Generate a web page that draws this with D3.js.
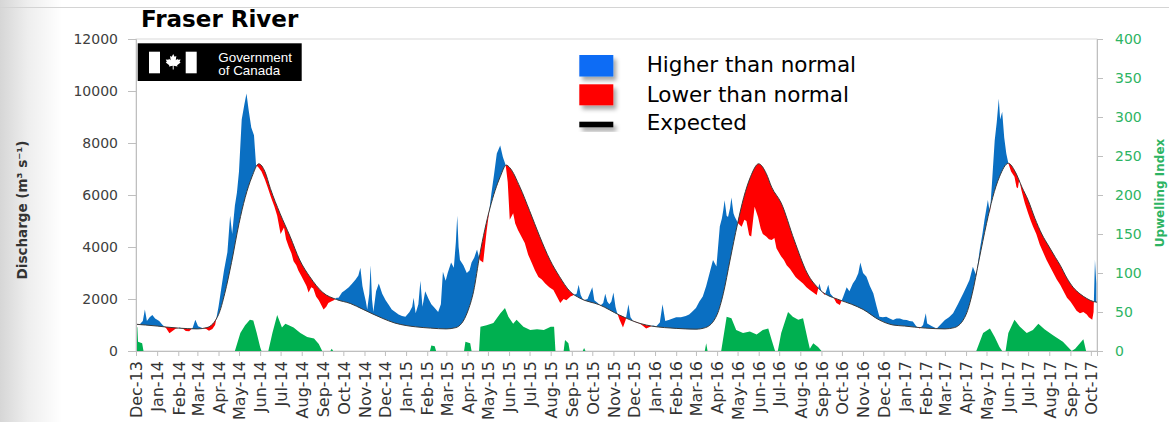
<!DOCTYPE html>
<html><head><meta charset="utf-8">
<script src="https://cdn.jsdelivr.net/npm/d3@7"></script>
<style>
html,body{margin:0;padding:0;background:#fff;}
svg{display:block;}
</style></head>
<body>
<svg id="chart" width="1169" height="422"></svg>
<script>
// ---------------- DATA ----------------
const chartTitle = "Fraser River";
const xTickLabels = ["Dec-13","Jan-14","Feb-14","Mar-14","Apr-14","May-14","Jun-14","Jul-14","Aug-14","Sep-14","Oct-14","Nov-14",
 "Dec-14","Jan-15","Feb-15","Mar-15","Apr-15","May-15","Jun-15","Jul-15","Aug-15","Sep-15","Oct-15","Nov-15",
 "Dec-15","Jan-16","Feb-16","Mar-16","Apr-16","May-16","Jun-16","Jul-16","Aug-16","Sep-16","Oct-16","Nov-16",
 "Dec-16","Jan-17","Feb-17","Mar-17","Apr-17","May-17","Jun-17","Jul-17","Aug-17","Sep-17","Oct-17"];
const leftTicks = [0,2000,4000,6000,8000,10000,12000];
const rightTicks = [0,50,100,150,200,250,300,350,400];
const xDomain = ["2013-12-01","2017-10-10"];

// Expected (normal) discharge, m3/s
const expDates = ["2013-11-15","2013-12-01","2013-12-15","2014-01-01","2014-01-15","2014-02-01","2014-02-15","2014-03-01","2014-03-15",
"2014-04-01","2014-04-10","2014-04-20","2014-05-01","2014-05-10","2014-05-20","2014-05-30","2014-06-08","2014-06-16","2014-06-30",
"2014-07-15","2014-07-29","2014-08-13","2014-09-01","2014-09-21","2014-10-11","2014-10-30","2014-11-28","2014-12-15","2015-01-01",
"2015-01-15","2015-02-06","2015-03-01","2015-03-15","2015-04-01","2015-04-10","2015-04-19","2015-05-04","2015-05-19","2015-05-28",
"2015-06-02","2015-06-17","2015-07-01","2015-07-16","2015-07-31","2015-08-14","2015-08-29","2015-09-13","2015-10-12","2015-11-10",
"2015-12-10","2015-12-29","2016-01-15","2016-02-01","2016-02-15","2016-03-01","2016-03-15","2016-04-01","2016-04-10","2016-04-20",
"2016-05-01","2016-05-10","2016-05-20","2016-06-01","2016-06-12","2016-06-20","2016-07-04","2016-07-23","2016-08-11","2016-08-30",
"2016-09-28","2016-10-15","2016-11-01","2016-11-25","2016-12-15","2017-01-01","2017-01-15","2017-02-01","2017-02-15","2017-03-01",
"2017-03-15","2017-04-01","2017-04-10","2017-04-20","2017-05-01","2017-05-10","2017-05-20","2017-06-02","2017-06-12","2017-06-22",
"2017-07-01","2017-07-11","2017-07-21","2017-08-01","2017-08-10","2017-08-17","2017-08-27","2017-09-05","2017-09-15","2017-09-25",
"2017-10-05","2017-10-20"];
const expFlow = [1100,1030,1000,960,920,880,860,850,900,
1400,2200,3400,4900,5900,6700,7200,6900,6250,5300,
4400,3500,2850,2250,1980,1830,1600,1250,1080,980,
930,880,850,900,1500,2300,3700,5500,6700,7150,
7050,6300,5400,4400,3500,2860,2300,2030,1770,1380,
1060,950,900,870,850,840,900,1400,2200,3500,
4900,5900,6700,7200,6830,6300,5690,4270,3000,2350,
1960,1800,1600,1190,1000,960,920,880,860,850,
900,1400,2200,3500,4900,5900,6700,7220,6900,6300,
5800,5100,4500,4000,3600,3300,2800,2450,2200,2020,
1900,1850];

// Observed discharge
const obsDates = ["2013-12-01","2013-12-07","2013-12-11","2013-12-14","2013-12-17","2013-12-21","2013-12-25","2013-12-29",
"2014-01-04","2014-01-09","2014-01-14","2014-01-19","2014-01-23","2014-01-28","2014-02-03","2014-02-08","2014-02-12","2014-02-17",
"2014-02-22","2014-02-26","2014-03-02","2014-03-08","2014-03-14","2014-03-18","2014-03-23","2014-03-27","2014-04-01","2014-04-05",
"2014-04-09","2014-04-14","2014-04-18","2014-04-21","2014-04-25","2014-04-28","2014-05-01","2014-05-05","2014-05-09","2014-05-12",
"2014-05-15","2014-05-19","2014-05-23","2014-05-26","2014-05-30","2014-06-03","2014-06-08","2014-06-12","2014-06-17","2014-06-22",
"2014-06-26","2014-07-01","2014-07-06","2014-07-09","2014-07-13","2014-07-17","2014-07-20","2014-07-24","2014-07-27","2014-07-31",
"2014-08-04","2014-08-08","2014-08-11","2014-08-15","2014-08-18","2014-08-22","2014-08-26","2014-08-30","2014-09-02","2014-09-06",
"2014-09-09","2014-09-13","2014-09-17","2014-09-21","2014-09-24","2014-09-29","2014-10-04","2014-10-09","2014-10-14","2014-10-19",
"2014-10-23","2014-10-26","2014-10-29","2014-10-31","2014-11-03","2014-11-05","2014-11-08","2014-11-10","2014-11-12","2014-11-14",
"2014-11-18","2014-11-22","2014-11-27","2014-12-02","2014-12-06","2014-12-11","2014-12-16","2014-12-21","2014-12-26","2014-12-31",
"2015-01-06","2015-01-10","2015-01-12","2015-01-15","2015-01-19","2015-01-22","2015-01-25","2015-01-29","2015-02-03","2015-02-07",
"2015-02-12","2015-02-17","2015-02-21","2015-02-24","2015-02-28","2015-03-03","2015-03-08","2015-03-12","2015-03-15","2015-03-17",
"2015-03-19","2015-03-21","2015-03-26","2015-03-31","2015-04-04","2015-04-07","2015-04-11","2015-04-15","2015-04-19","2015-04-24",
"2015-04-29","2015-05-03","2015-05-06","2015-05-10","2015-05-14","2015-05-19","2015-05-23","2015-05-27","2015-05-30","2015-06-02",
"2015-06-07","2015-06-10","2015-06-14","2015-06-19","2015-06-24","2015-06-29","2015-07-04","2015-07-09","2015-07-14","2015-07-19",
"2015-07-24","2015-07-30","2015-08-05","2015-08-10","2015-08-15","2015-08-20","2015-08-24","2015-08-30","2015-09-04","2015-09-08",
"2015-09-11","2015-09-14","2015-09-18","2015-09-24","2015-10-01","2015-10-04","2015-10-09","2015-10-13","2015-10-17","2015-10-20",
"2015-10-23","2015-10-26","2015-10-29","2015-11-01","2015-11-04","2015-11-06","2015-11-10","2015-11-15","2015-11-19","2015-11-23",
"2015-11-26","2015-11-30","2015-12-05","2015-12-10","2015-12-15","2015-12-19","2015-12-24","2015-12-29","2016-01-03","2016-01-08",
"2016-01-12","2016-01-16","2016-01-22","2016-01-27","2016-02-01","2016-02-08","2016-02-15","2016-02-20","2016-02-24","2016-03-01",
"2016-03-06","2016-03-11","2016-03-16","2016-03-21","2016-03-26","2016-03-31","2016-04-05","2016-04-08","2016-04-10","2016-04-12",
"2016-04-15","2016-04-17","2016-04-20","2016-04-22","2016-04-25","2016-04-27","2016-05-02","2016-05-07","2016-05-11","2016-05-14",
"2016-05-18","2016-05-21","2016-05-24","2016-05-26","2016-05-31","2016-06-04","2016-06-07","2016-06-12","2016-06-16","2016-06-20",
"2016-06-24","2016-06-27","2016-07-04","2016-07-08","2016-07-12","2016-07-17","2016-07-21","2016-07-25","2016-07-29","2016-08-05",
"2016-08-10","2016-08-15","2016-08-20","2016-08-25","2016-08-29","2016-09-01","2016-09-06","2016-09-11","2016-09-14","2016-09-18",
"2016-09-23","2016-09-28","2016-10-03","2016-10-08","2016-10-12","2016-10-17","2016-10-21","2016-10-25","2016-10-28","2016-11-01",
"2016-11-06","2016-11-11","2016-11-16","2016-11-21","2016-11-25","2016-11-30","2016-12-05","2016-12-10","2016-12-15","2016-12-20",
"2016-12-25","2016-12-30","2017-01-04","2017-01-08","2017-01-13","2017-01-18","2017-01-23","2017-01-28","2017-02-01","2017-02-03",
"2017-02-10","2017-02-17","2017-02-22","2017-03-01","2017-03-07","2017-03-13","2017-03-20","2017-03-28","2017-04-02","2017-04-06",
"2017-04-11","2017-04-16","2017-04-21","2017-04-25","2017-04-28","2017-05-03","2017-05-06","2017-05-09","2017-05-13","2017-05-16",
"2017-05-19","2017-05-21","2017-05-24","2017-05-27","2017-05-30","2017-06-02","2017-06-06","2017-06-11","2017-06-14","2017-06-16",
"2017-06-18","2017-06-21","2017-06-26","2017-07-01","2017-07-05","2017-07-08","2017-07-13","2017-07-18","2017-07-23","2017-07-28",
"2017-08-02","2017-08-07","2017-08-12","2017-08-17","2017-08-22","2017-08-27","2017-09-01","2017-09-05","2017-09-10","2017-09-15",
"2017-09-20","2017-09-25","2017-09-28","2017-10-03","2017-10-05","2017-10-07","2017-10-09"];
const obsFlow = [1000,1040,1150,1600,1150,1300,1380,1250,
1150,1000,880,680,760,860,900,860,770,760,
880,1200,950,880,850,780,850,1000,1700,2400,
3100,3800,5200,4500,5600,6100,6900,8900,9500,9900,
9300,8600,8300,7150,7050,6900,6600,6300,5900,5550,
5200,4500,4750,4300,4000,3750,3450,3300,3100,2900,
2700,2500,2250,2450,2400,2100,1950,1750,1600,1700,
1850,1900,1950,2050,2050,2250,2350,2450,2600,2750,
2900,3200,2500,2250,1900,1600,2200,3300,2000,1500,
2300,2600,2200,1950,1800,1600,1500,1400,1350,1320,
1500,1700,2050,1450,1800,2700,1700,2300,2000,1800,
1650,1500,1800,3050,2700,3000,3400,3200,4200,5200,
4000,3500,3300,3000,3100,3400,3600,3900,3500,3400,
4600,5400,6050,6800,7600,7900,7450,7150,6500,5050,
5300,4900,4650,4400,4150,3700,3400,3100,2850,2750,
2600,2450,2350,2100,1850,2000,1950,2100,2150,2200,
2550,2150,1950,2000,2450,1950,1850,1750,1850,2200,
1900,1800,1900,2250,1700,1500,1200,900,1200,1800,
1300,1150,1100,1050,950,870,920,980,950,1100,
1800,1150,1200,1250,1300,1300,1350,1400,1500,1650,
1900,2100,2500,3000,3500,3250,4800,5100,5400,5800,
5200,5150,5500,5900,5300,5150,4900,4780,5050,5000,
4450,4400,5100,5550,5150,4700,4500,4400,4300,4270,
4350,3950,3630,3500,3300,3150,3000,2850,2750,2600,
2450,2350,2250,2150,2600,2300,2150,2550,2200,2090,
1850,1770,2100,2450,2300,2600,2750,2990,3400,3000,
2860,2500,2220,1700,1320,1300,1320,1250,1190,1250,
1250,1200,1190,1150,1130,950,870,1000,1450,1060,
950,870,1000,1190,1300,1450,1800,2220,2500,2730,
3240,2900,3880,4500,5040,5810,5300,6450,8100,8800,
9700,8900,9200,8200,7600,7220,6900,6700,6300,6260,
6600,6200,5700,5300,5000,4800,4500,4100,3800,3500,
3250,3000,2750,2550,2300,2050,1900,1750,1550,1450,
1500,1400,1300,1200,1500,3500,2600];

// Upwelling index (right axis)
const upDates = ["2013-12-01","2013-12-03","2013-12-04","2013-12-10","2013-12-12","2014-04-25","2014-05-03","2014-05-10","2014-05-17",
"2014-05-22","2014-05-27","2014-06-01","2014-06-03","2014-06-13","2014-06-19","2014-06-26","2014-07-03","2014-07-08","2014-07-13",
"2014-07-20","2014-07-30","2014-08-09","2014-08-19","2014-08-26","2014-08-31","2014-09-12","2014-09-14","2014-09-16","2015-02-05",
"2015-02-07","2015-02-12","2015-02-14","2015-03-27","2015-03-29","2015-04-05","2015-04-07","2015-04-18","2015-04-20","2015-04-29",
"2015-05-09","2015-05-19","2015-05-26","2015-05-31","2015-06-07","2015-06-12","2015-06-22","2015-07-02","2015-07-12","2015-07-22",
"2015-08-01","2015-08-06","2015-08-08","2015-08-20","2015-08-22","2015-08-27","2015-08-29","2015-09-17","2015-09-19","2015-09-21",
"2016-03-14","2016-03-16","2016-03-18","2016-04-07","2016-04-15","2016-04-22","2016-04-29","2016-05-09","2016-05-19","2016-05-29",
"2016-06-07","2016-06-15","2016-06-20","2016-06-25","2016-06-29","2016-07-04","2016-07-14","2016-07-21","2016-07-29","2016-08-05",
"2016-08-12","2016-08-15","2016-08-20","2016-08-27","2016-09-01","2017-04-16","2017-04-26","2017-05-06","2017-05-13","2017-05-20",
"2017-05-24","2017-05-29","2017-06-02","2017-06-11","2017-06-19","2017-06-29","2017-07-08","2017-07-16","2017-07-25","2017-08-07",
"2017-08-21","2017-09-03","2017-09-08","2017-09-20","2017-09-24","2017-10-09"];
const upIndex = [33,30,12,10,0,0,23,33,40,
39,23,5,0,0,23,46,30,35,33,
30,23,18,16,9,0,0,3,0,0,
7,6,0,0,12,10,0,0,31,33,
36,48,55,44,35,40,31,27,28,27,
31,31,0,0,14,10,0,0,4,0,
0,10,0,0,44,42,27,23,25,21,
27,29,14,0,0,23,50,44,40,42,
14,3,10,5,0,0,23,29,18,5,
0,0,23,40,31,23,27,35,28,20,
12,0,3,15,0,0];

// ---------------- CHART ----------------
const W = 1169, H = 422;
const P = {left:136, right:1097, top:39, bottom:351};
const parse = d3.timeParse("%Y-%m-%d");
const parseTick = d3.timeParse("%b-%y");
const svg = d3.select("#chart");
const FONT = "'DejaVu Sans', sans-serif";

const x = d3.scaleTime().domain(xDomain.map(parse)).range([P.left, P.right]);
const y = d3.scaleLinear().domain([0, 12000]).range([P.bottom, P.top]);
const y2 = d3.scaleLinear().domain([0, 400]).range([P.bottom, P.top]);

const obs = obsDates.map((d,i)=>({date:parse(d), v:obsFlow[i]}));
const up = upDates.map((d,i)=>({date:parse(d), v:upIndex[i]}));
const expSeries = expDates.map((d,i)=>({date:parse(d), v:expFlow[i]}));

const defs = svg.append("defs");
const lg = defs.append("linearGradient").attr("id","leftShade").attr("x1",0).attr("x2",1).attr("y1",0).attr("y2",0);
lg.append("stop").attr("offset",0).attr("stop-color","#d6d6d6");
lg.append("stop").attr("offset",0.45).attr("stop-color","#eeeeee");
lg.append("stop").attr("offset",1).attr("stop-color","#ffffff");
svg.append("rect").attr("x",0).attr("y",0).attr("width",62).attr("height",H).attr("fill","url(#leftShade)");
svg.append("line").attr("x1",0).attr("x2",W).attr("y1",7.5).attr("y2",7.5).attr("stroke","#d4d4d4").attr("stroke-width",1);

const sh = defs.append("filter").attr("id","shadow").attr("x","-30%").attr("y","-30%").attr("width","180%").attr("height","200%");
sh.append("feDropShadow").attr("dx",3).attr("dy",4).attr("stdDeviation",2.2).attr("flood-color","#000").attr("flood-opacity",0.35);

defs.append("clipPath").attr("id","plotClip").append("rect")
  .attr("x",P.left).attr("y",P.top).attr("width",P.right-P.left).attr("height",P.bottom-P.top);
defs.append("clipPath").attr("id","aboveExp").append("path")
  .attr("d", d3.area().x(d=>x(d.date)).y0(P.top-5).y1(d=>y(d.v)).curve(d3.curveMonotoneX)(expSeries));
defs.append("clipPath").attr("id","belowExp").append("path")
  .attr("d", d3.area().x(d=>x(d.date)).y0(H).y1(d=>y(d.v)).curve(d3.curveMonotoneX)(expSeries));

svg.append("rect").attr("x",P.left).attr("y",P.top).attr("width",P.right-P.left).attr("height",P.bottom-P.top)
  .attr("fill","none").attr("stroke","#d9d9d9");

const plot = svg.append("g").attr("clip-path","url(#plotClip)");
plot.append("g").attr("clip-path","url(#aboveExp)").append("path")
  .attr("d", d3.area().x(d=>x(d.date)).y0(P.bottom).y1(d=>y(d.v))(obs))
  .attr("fill","#0a6fc2");
plot.append("g").attr("clip-path","url(#belowExp)").append("path")
  .attr("d", d3.area().x(d=>x(d.date)).y0(P.top).y1(d=>y(d.v))(obs))
  .attr("fill","#ff0000");
plot.append("path").attr("d", d3.line().x(d=>x(d.date)).y(d=>y(d.v)).curve(d3.curveMonotoneX)(expSeries))
  .attr("fill","none").attr("stroke","#3a3a3a").attr("stroke-width",1);
plot.append("path").attr("d", d3.area().x(d=>x(d.date)).y0(y2(0)).y1(d=>y2(d.v))(up))
  .attr("fill","#00b050");

const gl = svg.append("g").attr("transform",`translate(${P.left},0)`)
  .call(d3.axisLeft(y).tickValues(leftTicks).tickSize(8).tickPadding(10).tickFormat(d3.format("d")));
gl.selectAll("text").attr("font-family",FONT).attr("font-size",14).attr("fill","#404040");
const gr = svg.append("g").attr("transform",`translate(${P.right},0)`)
  .call(d3.axisRight(y2).tickValues(rightTicks).tickSize(6).tickPadding(12).tickFormat(d3.format("d")));
gr.selectAll("text").attr("font-family",FONT).attr("font-size",14).attr("fill","#2db463");
const tickDates = xTickLabels.map(s=>parseTick(s));
const gb = svg.append("g").attr("transform",`translate(0,${P.bottom})`)
  .call(d3.axisBottom(x).tickValues(tickDates).tickSize(5).tickFormat((d,i)=>xTickLabels[i]));
gb.selectAll("text").attr("font-family",FONT).attr("font-size",16).attr("fill","#333")
  .attr("transform","rotate(-90)").attr("x",-10).attr("y",0).attr("dy","0.36em").style("text-anchor","end");
[gl,gr,gb].forEach(g=>{ g.select(".domain").attr("stroke","#bfbfbf"); g.selectAll(".tick line").attr("stroke","#bfbfbf"); });

svg.append("text").attr("x",141).attr("y",27).attr("font-family",FONT).attr("font-weight","bold")
  .attr("font-size",23).attr("fill","#000").text(chartTitle);
svg.append("text").attr("transform","translate(27,210) rotate(-90)").attr("text-anchor","middle")
  .attr("font-family",FONT).attr("font-weight","bold").attr("font-size",13.5).attr("fill","#333")
  .text("Discharge (m³ s⁻¹)");
svg.append("text").attr("transform","translate(1164,193) rotate(-90)").attr("text-anchor","middle")
  .attr("font-family",FONT).attr("font-weight","bold").attr("font-size",12).attr("fill","#2db463")
  .text("Upwelling Index");

const logo = svg.append("g");
logo.append("rect").attr("x",137.7).attr("y",43.3).attr("width",164).attr("height",37.7).attr("fill","#000");
logo.append("rect").attr("x",149).attr("y",51.7).attr("width",11).attr("height",21.6).attr("fill","#fff");
logo.append("rect").attr("x",185.7).attr("y",51.7).attr("width",11).attr("height",21.6).attr("fill","#fff");
const leaf = [[0,-1],[0.18,-0.65],[0.4,-0.75],[0.33,-0.2],[0.55,-0.4],[0.6,-0.25],[0.95,-0.3],[0.82,0],[0.95,0.1],[0.5,0.45],[0.55,0.6],[0.06,0.52],[0.06,1],[-0.06,1],[-0.06,0.52],[-0.55,0.6],[-0.5,0.45],[-0.95,0.1],[-0.82,0],[-0.95,-0.3],[-0.6,-0.25],[-0.55,-0.4],[-0.33,-0.2],[-0.4,-0.75],[-0.18,-0.65]];
logo.append("path").attr("d", "M" + leaf.map(p=>[173.2+p[0]*7.8, 61.8+p[1]*7.8].join(",")).join("L") + "Z").attr("fill","#fff");
logo.append("text").attr("x",218.3).attr("y",61.5).attr("font-family","'Liberation Sans', Arial, sans-serif").attr("font-size",13.4).attr("fill","#fff").text("Government");
logo.append("text").attr("x",218.3).attr("y",74.5).attr("font-family","'Liberation Sans', Arial, sans-serif").attr("font-size",13.4).attr("fill","#fff").text("of Canada");

const legendItems = ["Higher than normal","Lower than normal","Expected"];
const legendColors = ["#0b6cf5","#ff0000","#000000"];
const lgG = svg.append("g");
const lgY = [55,84.3,121.7], lgH = [21.5,21,5.6], lgBase = [71.7,101.7,130];
legendItems.forEach((t,i)=>{
  lgG.append("rect").attr("x",579.3).attr("y",lgY[i]).attr("width",34).attr("height",lgH[i])
    .attr("fill",legendColors[i]).attr("filter","url(#shadow)");
  lgG.append("text").attr("x",646.7).attr("y",lgBase[i]).attr("font-family",FONT).attr("font-size",21.5)
    .attr("fill","#000").text(t);
});
</script>
</body></html>
